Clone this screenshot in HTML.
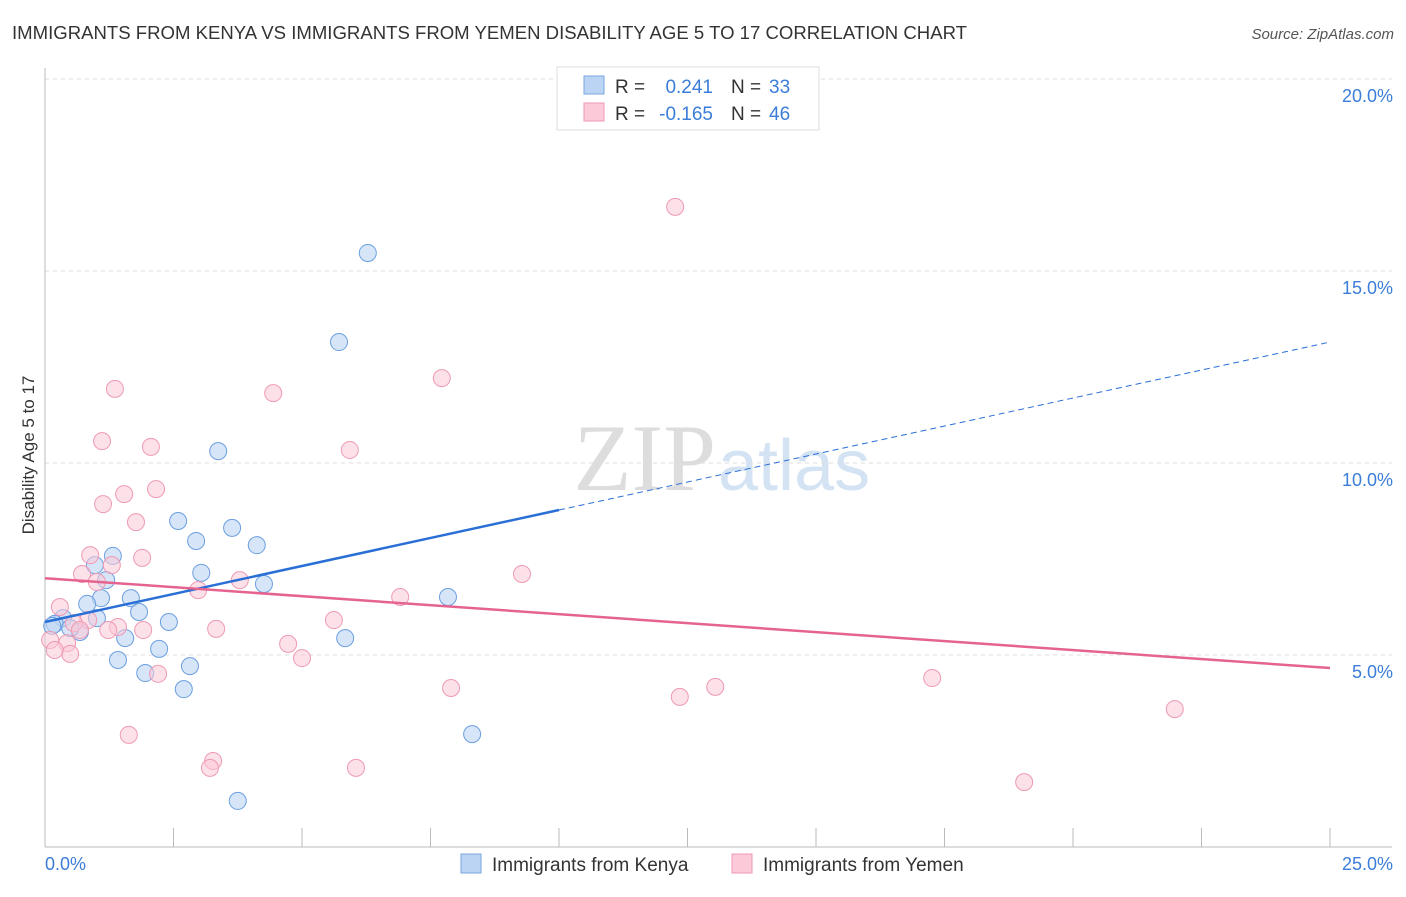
<!DOCTYPE html>
<html><head><meta charset="utf-8"><style>
body{margin:0;background:#fff;font-family:"Liberation Sans",sans-serif}
</style></head><body>
<svg width="1406" height="892" xmlns="http://www.w3.org/2000/svg" id="c">
<text x="12" y="39" font-size="18" fill="#333" textLength="955" lengthAdjust="spacingAndGlyphs">IMMIGRANTS FROM KENYA VS IMMIGRANTS FROM YEMEN DISABILITY AGE 5 TO 17 CORRELATION CHART</text>
<text x="1394" y="39" font-size="15" fill="#555" font-style="italic" text-anchor="end">Source: ZipAtlas.com</text>
<text x="716" y="490" font-size="95" fill="#ddd" text-anchor="end" font-family="Liberation Serif">ZIP</text>
<text x="718" y="490" font-size="72" fill="#d4e3f3">atlas</text>
<text transform="translate(34,455) rotate(-90)" font-size="17" fill="#333" text-anchor="middle">Disability Age 5 to 17</text>
<g id="grid"></g><g id="pts"></g><g id="lines"></g>
<rect x="557" y="67" width="262" height="63" fill="#fff" stroke="#ddd"/>
<rect x="584" y="76" width="20" height="18" fill="#bcd4f3" stroke="#7aa6e0"/>
<rect x="584" y="103" width="20" height="18" fill="#fbc9d7" stroke="#ef9ab4"/>
<g font-size="19">
<text x="615" y="93" fill="#333">R =</text><text x="713" y="93" fill="#3b7dd8" text-anchor="end">0.241</text>
<text x="731" y="93" fill="#333">N =</text><text x="769" y="93" fill="#3b7dd8">33</text></g>
<g font-size="19">
<text x="615" y="120" fill="#333">R =</text><text x="713" y="120" fill="#3b7dd8" text-anchor="end">-0.165</text>
<text x="731" y="120" fill="#333">N =</text><text x="769" y="120" fill="#3b7dd8">46</text></g>
<rect x="461" y="854" width="20" height="19" fill="#bcd4f3" stroke="#7aa6e0"/>
<text x="492" y="871" font-size="19" fill="#333">Immigrants from Kenya</text>
<rect x="732" y="854" width="20" height="19" fill="#fbc9d7" stroke="#ef9ab4"/>
<text x="763" y="871" font-size="19" fill="#333">Immigrants from Yemen</text>
</svg>
<script>
const yTicks=[5,10,15,20];
const xTickLabels=["0.0%","25.0%"];
const kenyaX=[6.28,5.72,3.37,2.59,3.64,2.94,4.12,1.32,0.97,1.19,3.04,4.26,7.84,1.09,1.67,0.82,1.83,0.35,1.01,0.19,2.41,0.68,1.56,5.84,2.22,1.42,2.82,1.95,2.70,8.31,3.75,0.14,0.49];
const kenyaY=[15.47,13.15,10.31,8.49,8.31,7.97,7.86,7.58,7.34,6.95,7.14,6.85,6.51,6.48,6.48,6.33,6.12,5.96,5.96,5.81,5.86,5.60,5.44,5.44,5.16,4.87,4.71,4.53,4.11,2.94,1.20,5.76,5.70];
const yemenX=[12.26,7.72,1.36,4.44,1.11,2.06,5.93,2.16,1.54,1.13,1.77,0.88,1.89,1.30,0.72,1.01,9.28,3.79,2.98,6.91,0.29,0.84,5.62,1.42,1.91,3.33,0.56,4.73,0.43,5.00,0.10,0.49,17.26,2.20,13.04,7.90,12.35,21.98,1.63,3.27,3.21,6.05,19.05,0.19,0.68,1.23];
const yemenY=[16.67,12.21,11.93,11.82,10.57,10.42,10.34,9.32,9.19,8.93,8.46,7.60,7.53,7.34,7.11,6.90,7.11,6.95,6.69,6.51,6.25,5.91,5.91,5.73,5.65,5.68,5.83,5.29,5.31,4.92,5.39,5.03,4.40,4.51,4.17,4.14,3.91,3.59,2.92,2.24,2.06,2.06,1.69,5.13,5.65,5.65];
const kenyaTrend=[5.86,13.15];
const yemenTrend=[7.0,4.66];
const sx=v=>45+v*51.4, sy=v=>847-v*38.4;
const NS="http://www.w3.org/2000/svg";
function mk(p,t,a){const e=document.createElementNS(NS,t);for(const k in a)e.setAttribute(k,a[k]);p.appendChild(e);return e;}
const g=document.getElementById('grid');
yTicks.forEach(v=>{
  const l=mk(g,'line',{x1:45,x2:1392,y1:sy(v),y2:sy(v),stroke:'#ddd','stroke-dasharray':'4,4'});
  
  
  const t=mk(g,'text',{x:1393,y:sy(v)+23,'font-size':18,fill:'#3b7dd8','text-anchor':'end'});t.textContent=v.toFixed(1)+'%';
  
  
});
const topLine=mk(g,'line',{x1:45,x2:1392,y1:79,y2:79,stroke:'#ddd','stroke-dasharray':'4,4'});


const ya=mk(g,'line',{x1:45,x2:45,y1:68,y2:847,stroke:'#bbb'});


const xa=mk(g,'line',{x1:45,x2:1392,y1:847,y2:847,stroke:'#bbb'});


for(let i=0;i<=10;i++){const x=sx(i*2.5);const t=mk(g,'line',{x1:x,x2:x,y1:828,y2:847,stroke:'#bbb'});
  
  }
xTickLabels.forEach((s,i)=>{const t=mk(g,'text',{x:i?1393:45,y:870,'font-size':18,fill:'#3b7dd8','text-anchor':i?'end':'start'});t.textContent=s;
  
  });
const p=document.getElementById('pts');
kenyaX.forEach((x,i)=>{const c=mk(p,'circle',{cx:sx(x),cy:sy(kenyaY[i]),r:8.5,fill:'#bcd4f3','fill-opacity':0.6,stroke:'#6b9fe0','stroke-width':1});
  
  });
yemenX.forEach((x,i)=>{const c=mk(p,'circle',{cx:sx(x),cy:sy(yemenY[i]),r:8.5,fill:'#fbc9d7','fill-opacity':0.55,stroke:'#ee9ab3','stroke-width':1});
  
  });
const L=document.getElementById('lines');
const kAt=x=>kenyaTrend[0]+(kenyaTrend[1]-kenyaTrend[0])*x/25;
const k1=mk(L,'line',{x1:sx(0),y1:sy(kAt(0)),x2:sx(10),y2:sy(kAt(10)),stroke:'#2a6fd6','stroke-width':2.5});


const k2=mk(L,'line',{x1:sx(10),y1:sy(kAt(10)),x2:sx(25),y2:sy(kAt(25)),stroke:'#2a6fd6','stroke-width':1,'stroke-dasharray':'6,4'});


const y1=mk(L,'line',{x1:sx(0),y1:sy(yemenTrend[0]),x2:sx(25),y2:sy(yemenTrend[1]),stroke:'#e5638f','stroke-width':2.5});


</script>
</body></html>
